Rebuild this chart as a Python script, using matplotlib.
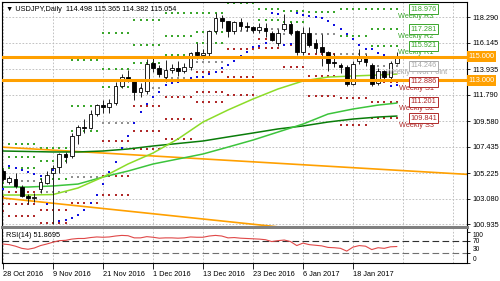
import matplotlib
matplotlib.use('Agg')
import matplotlib.pyplot as plt
import matplotlib.transforms as mtransforms

# ---------------- data ----------------
date_labels = ['28 Oct 2016', '9 Nov 2016', '21 Nov 2016', '1 Dec 2016',
               '13 Dec 2016', '23 Dec 2016', '6 Jan 2017', '18 Jan 2017']
date_idx = [0, 8, 16, 24, 32, 40, 48, 56]

opens = [105.40, 104.45, 104.75, 104.05, 103.30, 103.10, 103.90, 104.40, 105.20, 105.70,
         106.80, 106.70, 108.40, 109.10, 109.00, 110.20, 110.95, 110.80, 111.10, 112.55,
         113.30, 112.95, 112.00, 112.10, 114.45, 114.00, 113.30, 113.90, 114.00, 113.80,
         114.10, 115.40, 115.15, 115.30, 117.10, 118.20, 117.95, 117.10, 117.90, 117.55,
         117.50, 117.20, 117.40, 117.00, 116.10, 117.35, 117.75, 117.10, 115.40, 117.00,
         116.10, 115.80, 115.40, 114.55, 114.30, 114.10, 112.70, 114.60, 114.90, 114.30,
         112.75, 113.75, 113.30, 114.498]
highs = [105.60, 105.00, 105.20, 104.20, 103.50, 103.60, 104.80, 105.40, 105.90, 106.95,
         107.00, 108.55, 109.30, 109.80, 110.50, 111.00, 111.35, 111.40, 112.90, 113.50,
         113.90, 113.10, 112.80, 114.80, 114.85, 114.30, 114.75, 114.40, 114.60, 114.50,
         115.40, 116.10, 115.60, 117.20, 118.66, 118.50, 118.00, 118.00, 118.20, 117.90,
         117.60, 117.80, 117.80, 117.10, 117.30, 118.60, 117.90, 117.20, 117.50, 117.50,
         116.50, 116.90, 115.50, 115.30, 114.50, 114.30, 114.60, 115.61, 115.20, 114.50,
         114.00, 113.90, 114.60, 115.365]
lows = [104.60, 104.35, 104.00, 103.20, 102.60, 102.80, 103.60, 104.30, 101.00, 105.25,
        106.10, 106.50, 107.70, 108.60, 108.90, 110.00, 110.30, 110.30, 110.95, 112.40,
        112.85, 111.35, 111.60, 111.90, 113.70, 113.30, 112.90, 113.60, 113.40, 113.60,
        113.90, 114.80, 114.80, 114.90, 116.90, 117.40, 116.60, 116.90, 117.20, 117.10,
        117.00, 117.00, 116.60, 116.30, 115.90, 117.10, 116.80, 115.10, 115.10, 115.80,
        115.30, 114.20, 113.75, 114.10, 113.60, 112.57, 112.60, 114.40, 114.20, 112.50,
        112.60, 113.10, 113.00, 114.382]
closes = [104.75, 104.85, 104.15, 103.30, 103.10, 103.25, 104.45, 105.10, 105.65, 106.80,
          106.60, 108.30, 109.10, 109.05, 110.20, 110.90, 110.80, 111.10, 112.50, 113.30,
          112.95, 112.00, 112.35, 114.40, 114.00, 113.50, 113.90, 114.00, 113.80, 114.10,
          115.30, 115.15, 115.30, 117.10, 118.20, 117.95, 117.10, 117.90, 117.60, 117.50,
          117.25, 117.45, 117.10, 116.40, 117.00, 117.75, 117.00, 115.40, 117.00, 116.00,
          115.70, 115.40, 114.50, 114.50, 114.10, 112.70, 114.40, 114.90, 114.56, 112.70,
          113.80, 113.30, 114.45, 115.054]

sar = [103.90, 105.82, 105.65, 105.49, 105.32, 105.15, 104.99, 102.64, 105.49,
       101.20, 101.30, 101.50, 101.75, 102.10, 102.72, 103.39, 104.31, 105.32, 106.16,
       107.33, 108.34, 109.43, 110.35, 111.02,
       111.61, 112.03, 112.61, 112.78, 112.85, 113.03, 113.20, 113.25, 113.30, 113.54,
       113.70, 114.04, 114.29, 114.63, 115.05, 115.38, 115.80, 115.85, 116.14,
       118.65, 118.57, 115.97, 116.05, 118.65, 118.48, 118.40, 118.31, 118.23, 117.98,
       117.64, 117.31, 116.89, 116.47, 115.97, 115.64, 115.60, 115.30, 115.13, 112.53,
       112.60]

rsi = [60, 58, 53, 46, 43, 47, 55, 60, 66, 71,
       72, 76, 78, 78, 81, 83, 82, 83, 86, 88,
       87, 80, 80, 84, 82, 79, 80, 80, 79, 80,
       83, 82, 82, 86, 88, 86, 80, 81, 79, 78,
       77, 76, 74, 68, 71, 73, 68, 55, 63, 58,
       56, 54, 49, 48, 46, 37, 50, 55, 53, 42,
       48, 46, 51, 51.8695]

ma_idx = [0, 4, 8, 12, 16, 20, 24, 28, 32, 36, 40, 44, 48, 52, 56, 60, 63]
ma_fast = [103.39, 103.39, 103.43, 103.98, 104.90, 105.99, 106.91, 108.09, 109.51,
           110.52, 111.44, 112.28, 112.95, 113.28, 113.37, 113.45, 113.53]
ma_mid = [104.06, 104.06, 104.15, 104.31, 104.90, 105.40, 105.99, 106.41, 106.83,
          107.41, 108.00, 108.67, 109.34, 110.18, 110.60, 110.93, 111.10]
ma_slow = [107.08, 107.04, 107.00, 107.00, 107.08, 107.25, 107.50, 107.71, 107.92,
           108.26, 108.59, 108.93, 109.18, 109.51, 109.76, 109.93, 110.01]

# weekly groups of bars (first, last index)
weeks = [(0, 0), (1, 5), (6, 10), (11, 15), (16, 20), (21, 25), (26, 30), (31, 35),
         (36, 40), (41, 44), (45, 48), (49, 53), (54, 58), (59, 63)]
# high / low / close of the weeks before the first two groups
prior_week_high = [104.40, 105.54]
prior_week_low = [103.25, 103.53]
prior_week_close = [103.80, 104.75]

hlines_price = [115.0, 113.0]
trend1_idx, trend1_price = [0, 74], [107.40, 105.13]
trend2_idx, trend2_price = [0, 46], [103.14, 100.61]

price_ticks = [100.935, 103.080, 105.225, 107.435, 109.580, 111.790, 113.935, 116.145, 118.290]
rsi_ticks = [0, 30, 70, 100]

pivot_names = ['Weekly R3', 'Weekly R2', 'Weekly R1', 'Weekly Pivot Point',
               'Weekly S1', 'Weekly S2', 'Weekly S3']
pivot_values = [118.976, 117.281, 115.921, 114.246, 112.886, 111.201, 109.841]

header = '\u25BC USDJPY,Daily  114.498 115.365 114.382 115.054'

# ---------------- style ----------------
FONT = ['Liberation Sans', 'DejaVu Sans']
FS = 5.3
plt.rcParams['font.family'] = FONT
C_R = '#3aa62c'
C_S = '#b02a2a'
C_P = '#a8a8a8'
ORANGE = '#ffa000'
GRID = '#b8b8b8'

W, H = 500, 281
fig = plt.figure(figsize=(W / 100, H / 100), dpi=100)
def fx(p): return p / W
def fy(p): return 1 - p / H

ax = fig.add_axes([fx(2), fy(227), fx(467) - fx(2), fy(2) - fy(227)])
axr = fig.add_axes([fx(2), fy(263), fx(467) - fx(2), fy(229) - fy(263)])

XMIN, XMAX = -0.16, 74.24
for a in (ax, axr):
    a.set_xlim(XMIN, XMAX)
    for g in range(0, 80, 8):
        a.axvline(g, color=GRID, lw=0.6, ls=(0, (2, 2)), zorder=0)
ax.set_ylim(100.709, 119.573)
axr.set_ylim(-1.6, 108.8)

for t in price_ticks:
    ax.axhline(t, color=GRID, lw=0.6, ls=(0, (2, 2)), zorder=0)

# weekly pivot dots
n = len(closes)
for k, (s, e) in enumerate(weeks):
    if k < len(prior_week_high):
        hh, ll, cc = prior_week_high[k], prior_week_low[k], prior_week_close[k]
    else:
        ps, pe = weeks[k - 1]
        hh = max(highs[ps:pe + 1]); ll = min(lows[ps:pe + 1]); cc = closes[pe]
    p = (hh + ll + cc) / 3
    lv_r = [hh + 2 * (p - ll), p + (hh - ll), 2 * p - ll]
    lv_s = [2 * p - hh, p - (hh - ll), ll - 2 * (hh - p)]
    xs = list(range(s, e + 1))
    for v in lv_r:
        ax.scatter(xs, [v] * len(xs), s=0.9, marker='s', color=C_R, lw=0, zorder=1)
    for v in lv_s:
        ax.scatter(xs, [v] * len(xs), s=0.9, marker='s', color=C_S, lw=0, zorder=1)
    ax.scatter(xs, [p] * len(xs), s=0.9, marker='s', color='#909090', lw=0, zorder=1)

# trend lines and moving averages
ax.axline((trend1_idx[0], trend1_price[0]), (trend1_idx[1], trend1_price[1]),
          color=ORANGE, lw=1.2, zorder=2)
ax.axline((trend2_idx[0], trend2_price[0]), (trend2_idx[1], trend2_price[1]),
          color=ORANGE, lw=1.2, zorder=2)
ax.plot(ma_idx, ma_slow, color='#0a7d0a', lw=1.1, zorder=2)
ax.plot(ma_idx, ma_mid, color='#3cc43c', lw=1.1, zorder=2)
ax.plot(ma_idx, ma_fast, color='#8cdc28', lw=1.1, zorder=2)

# candles
idx = list(range(n))
ax.vlines(idx, lows, highs, color='#202020', lw=0.7, zorder=3)
bottoms = [min(o, c) for o, c in zip(opens, closes)]
heights = [max(abs(c - o), 0.04) for o, c in zip(opens, closes)]
colors = ['white' if c >= o else 'black' for o, c in zip(opens, closes)]
ax.bar(idx, heights, bottom=bottoms, width=0.6, color=colors, edgecolor='black',
       linewidth=0.6, zorder=3.5)

# parabolic SAR
ax.scatter(idx, sar, s=3.2, marker='s', color='#1010e0', lw=0, zorder=4)

# horizontal orange levels
for hp in hlines_price:
    ax.axhline(hp, color=ORANGE, lw=2.2, zorder=5)

# axis ticks / labels
ax.set_xticks([])
ax.yaxis.tick_right()
ax.set_yticks(price_ticks)
ax.set_yticklabels(['%.3f' % t for t in price_ticks], fontsize=FS)
ax.tick_params(axis='y', length=2, width=0.6, pad=2)
for sp in ax.spines.values():
    sp.set_color('black'); sp.set_linewidth(0.8)
ax.spines['bottom'].set_color('#808080')
ax.spines['bottom'].set_linewidth(2.2)

# orange labels on axis
bt = mtransforms.blended_transform_factory(ax.transAxes, ax.transData)
for hp in hlines_price:
    ax.text(1.003, hp, '%.3f' % hp, transform=bt, fontsize=FS, color='white',
            va='center', ha='left', clip_on=False, zorder=10,
            bbox=dict(boxstyle='square,pad=0.25', fc=ORANGE, ec='none'))

# pivot labels
dy = 7 * (119.573 - 100.709) / 225
for name, val in zip(pivot_names, pivot_values):
    key = name.split()[-1]
    if name.endswith('Point'):
        col = C_P
    elif key.startswith('R'):
        col = C_R
    else:
        col = C_S
    ax.text(66.1, val - dy, name, fontsize=FS, color=col, ha='center', va='center', zorder=6)
    ax.text(67.3, val, '%.3f' % val, fontsize=FS, color=col, ha='center', va='center', zorder=7,
            bbox=dict(boxstyle='square,pad=0.2', fc='white', ec=col, lw=0.7))

ax.text(0.008, 0.965, header, transform=ax.transAxes, fontsize=FS, color='black',
        ha='left', va='center', family=FONT, zorder=10)

# ---------------- RSI panel ----------------
axr.plot(idx, rsi, color='#e04848', lw=0.8, zorder=3)
axr.axhline(70, color='#303030', lw=0.8, ls=(0, (6, 3)), zorder=2)
axr.axhline(30, color='#707070', lw=0.8, ls=(0, (6, 3)), zorder=2)
axr.yaxis.tick_right()
axr.set_yticks(rsi_ticks)
axr.set_yticklabels([str(v) for v in rsi_ticks], fontsize=4.8)
axr.tick_params(axis='y', length=2, width=0.6, pad=2)
for lab, v in zip(axr.get_yticklabels(), rsi_ticks):
    if v in (0, 30):
        lab.set_va('bottom')
    elif v == 100:
        lab.set_va('top')
axr.set_xticks(date_idx)
axr.set_xticklabels(date_labels, fontsize=FS, ha='left')
axr.tick_params(axis='x', length=4, width=0.6, pad=1.5)
for sp in axr.spines.values():
    sp.set_color('black'); sp.set_linewidth(0.8)
axr.spines['top'].set_visible(False)
axr.text(0.008, 0.82, 'RSI(14) 51.8695', transform=axr.transAxes, fontsize=FS,
         color='black', ha='left', va='center')

fig.savefig('out.png', dpi=100)
